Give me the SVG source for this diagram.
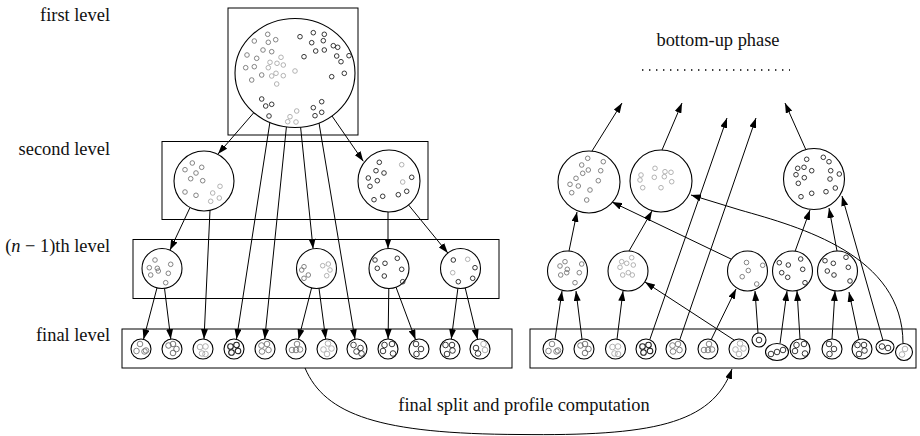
<svg xmlns="http://www.w3.org/2000/svg" xmlns:xlink="http://www.w3.org/1999/xlink" width="920" height="436" viewBox="0 0 920 436">
  <style>
    .box { fill: none; stroke: #000; stroke-width: 1; }
    .cl { fill: #fff; stroke: #000; stroke-width: 1.1; }
    .m { fill: none; stroke: #777; stroke-width: 0.9; }
    .l { fill: none; stroke: #aaa; stroke-width: 0.9; }
    .d { fill: none; stroke: #222; stroke-width: 0.9; }
    .lbl { font-family: "Liberation Serif", "Times New Roman", serif; font-size: 18.4px; fill: #111; }
    .edge { fill: none; stroke: #000; stroke-width: 1; marker-end: url(#ah); }
  </style>
  <defs>
    <marker id="ah" viewBox="0 0 10 7" refX="10" refY="3.5" markerWidth="10" markerHeight="7" markerUnits="userSpaceOnUse" orient="auto">
      <path d="M0,0 L10,3.5 L0,7 Z" fill="#000"/>
    </marker>
    <!-- leaf clusters of the final level -->
    <g id="f1"><circle class="cl" r="10"/><g class="m"><circle cx="-1" cy="-5" r="2.8"/><circle cx="-4.5" cy="2" r="2.8"/><circle cx="3.5" cy="2.5" r="2.8"/><circle cx="5" cy="1.5" r="2.8"/></g></g>
    <g id="f2"><circle class="cl" r="10"/><g class="m" style="stroke:#666"><circle cx="-3.5" cy="-3.5" r="2.8"/><circle cx="1" cy="-5" r="2.8"/><circle cx="4.5" cy="0" r="2.8"/><circle cx="1" cy="4" r="2.8"/></g></g>
    <g id="f3"><circle class="cl" r="10"/><g class="l"><circle cx="-3" cy="-2" r="2.8"/><circle cx="2.5" cy="-2.5" r="2.8"/><circle cx="-1" cy="4.5" r="2.8"/><circle cx="2.5" cy="5" r="2.8"/></g></g>
    <g id="f4"><circle class="cl" r="10"/><g class="d" style="stroke-width:1.1"><circle cx="-3.5" cy="-2.5" r="2.8"/><circle cx="2.5" cy="-4" r="2.8"/><circle cx="-2.5" cy="3.5" r="2.8"/><circle cx="4" cy="2" r="2.8"/></g></g>
    <g id="f5"><circle class="cl" r="10"/><g class="m"><circle cx="-3.5" cy="-3.5" r="2.8"/><circle cx="2" cy="-5" r="2.8"/><circle cx="-3" cy="2.5" r="2.8"/><circle cx="3.5" cy="1" r="2.8"/></g></g>
    <g id="f6"><circle class="cl" r="10"/><g class="m"><circle cx="-4" cy="1" r="2.8"/><circle cx="0" cy="1" r="2.8"/><circle cx="4" cy="0.5" r="2.8"/><circle cx="1" cy="-5" r="2.8"/></g></g>
    <g id="f7"><circle class="cl" r="10"/><g class="l"><circle cx="1" cy="-5.5" r="2.8"/><circle cx="-3.5" cy="0.5" r="2.8"/><circle cx="4.5" cy="-0.5" r="2.8"/><circle cx="0" cy="5" r="2.8"/></g></g>
    <g id="f8"><circle class="cl" r="10"/><g class="d" style="stroke:#333"><circle cx="-3.5" cy="-4" r="2.8"/><circle cx="3.5" cy="-1" r="2.8"/><circle cx="-0.5" cy="2.5" r="2.8"/><circle cx="4.5" cy="4.5" r="2.8"/></g></g>
    <g id="f9"><circle class="cl" r="10"/><g class="d"><circle cx="-3.5" cy="-4" r="2.8"/><circle cx="4" cy="-5" r="2.8"/><circle cx="-5" cy="2" r="2.8"/><circle cx="5" cy="4.5" r="2.8"/></g></g>
    <g id="f10"><circle class="cl" r="10"/><g class="d"><circle cx="-3" cy="-5" r="2.8"/><circle cx="2" cy="0" r="2.8"/><circle cx="-2.5" cy="5" r="2.8"/></g></g>
    <g id="f11"><circle class="cl" r="10"/><g class="d"><circle cx="-4.5" cy="-4" r="2.8"/><circle cx="2" cy="-4" r="2.8"/><circle cx="2.5" cy="1.5" r="2.8"/><circle cx="-3" cy="5" r="2.8"/></g></g>
    <g id="f12"><circle class="cl" r="10"/><circle class="d" cx="-4" cy="-1" r="2.8"/><circle class="d" cx="-2" cy="4.5" r="2.8"/><circle class="l" cx="3.5" cy="-5" r="2.8"/><circle class="l" cx="5" cy="1" r="2.8"/></g>
  </defs>

  <rect width="920" height="436" fill="#fff"/>

  <!-- level labels -->
  <g id="labels">
    <text class="lbl" x="110" y="21" text-anchor="end">first level</text>
    <text class="lbl" x="110" y="155" text-anchor="end">second level</text>
    <text class="lbl" x="110" y="252" text-anchor="end">(<tspan font-style="italic">n</tspan> − 1)th level</text>
    <text class="lbl" x="110" y="341" text-anchor="end">final level</text>
    <text class="lbl" x="718" y="46" text-anchor="middle">bottom-up phase</text>
    <line x1="642" y1="70" x2="790" y2="70" stroke="#000" stroke-width="1.4" stroke-dasharray="1.4 5.6"/>
    <text class="lbl" x="524" y="411" text-anchor="middle">final split and profile computation</text>
  </g>

  <!-- level frames -->
  <g id="frames">
    <rect class="box" x="228" y="8" width="130" height="127"/>
    <rect class="box" x="162" y="141.5" width="266" height="78"/>
    <rect class="box" x="133" y="239.5" width="366" height="59"/>
    <rect class="box" x="122" y="329" width="390" height="39"/>
    <rect class="box" x="530" y="329" width="386" height="39"/>
  </g>

  <!-- connectors -->
  <g id="connectors">
    <!-- top-down split -->
    <path class="edge" d="M253.5,113 L218,154"/>
    <path class="edge" d="M332,116 L363.3,161.3"/>
    <path class="edge" d="M269.9,122.3 L236.5,339"/>
    <path class="edge" d="M286.4,127 L264.7,339.2"/>
    <path class="edge" d="M300.6,127.2 L313.1,248.8"/>
    <path class="edge" d="M319,123 L355,339.2"/>
    <path class="edge" d="M190,207.6 L170,250"/>
    <path class="edge" d="M210,210.4 L204,339"/>
    <path class="edge" d="M388,212 L388,248.5"/>
    <path class="edge" d="M408.6,205 L447.8,253"/>
    <path class="edge" d="M157,287.8 L143.5,339.3"/>
    <path class="edge" d="M164.5,288.3 L170.8,339.1"/>
    <path class="edge" d="M311.6,287.9 L298.5,339.3"/>
    <path class="edge" d="M319,288.3 L325.7,339.1"/>
    <path class="edge" d="M388.8,288.5 L388.1,339"/>
    <path class="edge" d="M396,287.2 L415.5,339.6"/>
    <path class="edge" d="M457.9,288.3 L451.3,339.1"/>
    <path class="edge" d="M465.2,287.9 L477.6,339.3"/>
    <!-- final split -->
    <path class="edge" d="M305,368 C325,415 380,434 520,434.5 C650,436 712,425 732,369"/>
    <!-- bottom-up merge -->
    <path class="edge" d="M555,339.2 L562,291"/>
    <path class="edge" d="M582,339.2 L576,291"/>
    <path class="edge" d="M617,339.2 L623,291"/>
    <path class="edge" d="M650,339 L727,118"/>
    <path class="edge" d="M680,339 L756,118"/>
    <path class="edge" d="M711,340 L736,289"/>
    <path class="edge" d="M734,340 L645,282"/>
    <path class="edge" d="M758,333 L755,291"/>
    <path class="edge" d="M780,343.5 L787,291"/>
    <path class="edge" d="M800,339 L797,291"/>
    <path class="edge" d="M832,339 L835,291"/>
    <path class="edge" d="M859,339.5 L849,292"/>
    <path class="edge" d="M883,340.5 L842,196"/>
    <path class="edge" d="M903,343.5 C903,255 800,227 740,210 L691,195"/>
    <path class="edge" d="M569,251 L577,212"/>
    <path class="edge" d="M629,251 L652,211"/>
    <path class="edge" d="M731,259 L612,202"/>
    <path class="edge" d="M795,251.5 L810,210"/>
    <path class="edge" d="M837,251 L829,208"/>
    <path class="edge" d="M592,151 L622,103"/>
    <path class="edge" d="M662,150 L682,103"/>
    <path class="edge" d="M806,150 L785,103"/>
  </g>

  <!-- first level: the whole data set -->
  <g id="root">
    <ellipse class="cl" cx="295" cy="73" rx="60" ry="54.5"/>
    <g class="m">
      <circle cx="267.7" cy="34.3" r="2.3"/><circle cx="275.7" cy="39.7" r="2.3"/><circle cx="268.3" cy="42.3" r="2.3"/>
      <circle cx="254.3" cy="41" r="2.3"/><circle cx="263" cy="50" r="2.3"/><circle cx="271.7" cy="51.7" r="2.3"/>
      <circle cx="247" cy="55" r="2.3"/><circle cx="256.7" cy="58.3" r="2.3"/><circle cx="245.7" cy="67.7" r="2.3"/>
      <circle cx="254.3" cy="66.7" r="2.3"/><circle cx="251.7" cy="80" r="2.3"/><circle cx="261.7" cy="75" r="2.3"/>
    </g>
    <g class="l">
      <circle cx="281" cy="57.3" r="2.3"/><circle cx="270" cy="62.3" r="2.3"/><circle cx="277" cy="63.3" r="2.3"/>
      <circle cx="283.3" cy="65" r="2.3"/><circle cx="268.3" cy="67.7" r="2.3"/><circle cx="276" cy="73.3" r="2.3"/>
      <circle cx="271.7" cy="76" r="2.3"/><circle cx="283.3" cy="75.7" r="2.3"/><circle cx="295" cy="71" r="2.3"/>
      <circle cx="276.7" cy="84" r="2.3"/>
      <circle cx="296.7" cy="111" r="2.3"/><circle cx="290" cy="116.7" r="2.3"/><circle cx="296" cy="122" r="2.3"/>
      <circle cx="287.7" cy="121.7" r="2.3"/>
    </g>
    <g class="d">
      <circle cx="300" cy="36.7" r="2.3"/><circle cx="313.3" cy="32.7" r="2.3"/><circle cx="324.3" cy="34.3" r="2.3"/>
      <circle cx="311.7" cy="42.7" r="2.3"/><circle cx="323.3" cy="40.7" r="2.3"/><circle cx="333.3" cy="45.7" r="2.3"/>
      <circle cx="337.7" cy="47.3" r="2.3"/><circle cx="304" cy="56.7" r="2.3"/><circle cx="315.7" cy="51" r="2.3"/>
      <circle cx="324.3" cy="50" r="2.3"/><circle cx="336.7" cy="56" r="2.3"/><circle cx="341" cy="61.7" r="2.3"/>
      <circle cx="349" cy="55.7" r="2.3"/><circle cx="331.7" cy="76.7" r="2.3"/><circle cx="344.3" cy="73.3" r="2.3"/>
      <circle cx="261.7" cy="99" r="2.3"/><circle cx="271.7" cy="104.3" r="2.3"/><circle cx="265.7" cy="106" r="2.3"/>
      <circle cx="269" cy="116" r="2.3"/>
      <circle cx="321.7" cy="101.7" r="2.3"/><circle cx="313.3" cy="107.7" r="2.3"/><circle cx="321.7" cy="112.3" r="2.3"/>
      <circle cx="315" cy="115.7" r="2.3"/>
    </g>
  </g>

  <!-- second level -->
  <g id="s1">
    <circle class="cl" cx="204" cy="181" r="30"/>
    <g class="m">
      <circle cx="185" cy="169.7" r="2.3"/><circle cx="192.3" cy="163" r="2.3"/><circle cx="201.7" cy="167.3" r="2.3"/>
      <circle cx="196" cy="173" r="2.3"/><circle cx="190.7" cy="178.7" r="2.3"/><circle cx="202.7" cy="180.7" r="2.3"/>
      <circle cx="185" cy="192" r="2.3"/><circle cx="196" cy="195.3" r="2.3"/>
    </g>
    <g class="l">
      <circle cx="220" cy="186.3" r="2.3"/><circle cx="212.7" cy="193" r="2.3"/><circle cx="219.3" cy="198" r="2.3"/>
      <circle cx="210.7" cy="201.3" r="2.3"/>
    </g>
  </g>
  <g id="s2">
    <circle class="cl" cx="389" cy="181" r="31"/>
    <g class="d">
      <circle cx="379.3" cy="162.3" r="2.3"/><circle cx="376" cy="170.7" r="2.3"/><circle cx="384" cy="173" r="2.3"/>
      <circle cx="368.3" cy="178" r="2.3"/><circle cx="377.3" cy="180.7" r="2.3"/><circle cx="370" cy="186.3" r="2.3"/>
      <circle cx="411.7" cy="177.3" r="2.3"/><circle cx="406.7" cy="191.3" r="2.3"/><circle cx="398.3" cy="194.7" r="2.3"/>
      <circle cx="382.7" cy="196.3" r="2.3"/><circle cx="374" cy="199.7" r="2.3"/>
    </g>
    <g class="l"><circle cx="401.7" cy="164.7" r="2.3"/><circle cx="402.7" cy="182" r="2.3"/></g>
  </g>

  <!-- (n-1)th level -->
  <g id="n1">
    <circle class="cl" cx="162" cy="268.5" r="20"/>
    <g class="m">
      <circle cx="155" cy="260" r="2.3"/><circle cx="149.3" cy="267.7" r="2.3"/><circle cx="157.3" cy="268.3" r="2.3"/>
      <circle cx="158.3" cy="271" r="2.3"/><circle cx="150.7" cy="275" r="2.3"/><circle cx="170.7" cy="264.3" r="2.3"/>
      <circle cx="168.3" cy="273.3" r="2.3"/><circle cx="165.7" cy="282.7" r="2.3"/>
    </g>
  </g>
  <g id="n2">
    <circle class="cl" cx="316.5" cy="268.5" r="20"/>
    <g class="m"><circle cx="304" cy="266.7" r="2.3"/><circle cx="301.7" cy="270" r="2.3"/><circle cx="308.3" cy="275" r="2.3"/><circle cx="304" cy="278.3" r="2.3"/></g>
    <g class="l"><circle cx="322.7" cy="265.7" r="2.3"/><circle cx="328.3" cy="264" r="2.3"/><circle cx="330" cy="270" r="2.3"/><circle cx="326.7" cy="275.7" r="2.3"/></g>
  </g>
  <g id="n3">
    <circle class="cl" cx="389" cy="268.5" r="20"/>
    <g class="d">
      <circle cx="375" cy="260" r="2.3"/><circle cx="385" cy="263.3" r="2.3"/><circle cx="397.3" cy="258.3" r="2.3"/>
      <circle cx="377.3" cy="268.3" r="2.3"/><circle cx="384.3" cy="276" r="2.3"/><circle cx="401.7" cy="269.3" r="2.3"/>
      <circle cx="402.7" cy="281.7" r="2.3"/>
    </g>
  </g>
  <g id="n4">
    <circle class="cl" cx="460.5" cy="268.5" r="20"/>
    <g class="d"><circle cx="453.3" cy="260" r="2.3"/><circle cx="475" cy="267.7" r="2.3"/><circle cx="472.7" cy="278.3" r="2.3"/><circle cx="458.3" cy="281.7" r="2.3"/></g>
    <g class="l"><circle cx="467.7" cy="259.3" r="2.3"/><circle cx="452.7" cy="272.7" r="2.3"/></g>
  </g>

  <!-- final level, after the top-down phase -->
  <g id="leaves-left">
    <use xlink:href="#f1" x="141" y="349"/>
    <use xlink:href="#f2" x="172" y="349"/>
    <use xlink:href="#f3" x="203" y="349"/>
    <use xlink:href="#f4" x="234" y="349"/>
    <use xlink:href="#f5" x="265" y="349"/>
    <use xlink:href="#f6" x="296" y="349"/>
    <use xlink:href="#f7" x="327" y="349"/>
    <use xlink:href="#f8" x="357" y="349"/>
    <use xlink:href="#f9" x="388" y="349"/>
    <use xlink:href="#f10" x="419" y="349"/>
    <use xlink:href="#f11" x="450" y="349"/>
    <use xlink:href="#f12" x="480" y="349"/>
  </g>

  <!-- final level, after the final split -->
  <g id="leaves-right">
    <use xlink:href="#f1" x="553" y="349"/>
    <use xlink:href="#f2" x="584" y="349"/>
    <use xlink:href="#f3" x="615.5" y="349"/>
    <use xlink:href="#f4" x="646" y="349"/>
    <use xlink:href="#f5" x="676" y="349"/>
    <use xlink:href="#f6" x="708" y="349"/>
    <use xlink:href="#f7" x="739" y="349"/>
    <g id="r8"><circle class="cl" cx="759" cy="340" r="7"/><circle class="d" cx="759" cy="340" r="2.8"/></g>
    <g id="r9"><ellipse class="cl" cx="777" cy="352" rx="11.5" ry="8.5"/><g class="d"><circle cx="771" cy="354" r="2.8"/><circle cx="777" cy="352" r="2.8"/><circle cx="783" cy="350" r="2.8"/></g></g>
    <use xlink:href="#f9" x="800" y="349"/>
    <use xlink:href="#f10" x="832" y="349"/>
    <use xlink:href="#f11" x="862" y="349"/>
    <g id="r13"><ellipse class="cl" cx="885" cy="347" rx="9" ry="7"/><g class="d"><circle cx="882" cy="346.5" r="2.8"/><circle cx="888" cy="348" r="2.8"/></g></g>
    <g id="r14"><circle class="cl" cx="904" cy="352" r="8.5"/><g class="l"><circle cx="905" cy="349" r="2.8"/><circle cx="902" cy="354.5" r="2.8"/></g></g>
  </g>

  <!-- bottom-up phase: merged clusters -->
  <g id="m1">
    <circle class="cl" cx="567.5" cy="271" r="20"/>
    <g class="m">
      <circle cx="565" cy="261.7" r="2.3"/><circle cx="560" cy="266" r="2.3"/><circle cx="567.3" cy="269.3" r="2.3"/>
      <circle cx="566.7" cy="272.7" r="2.3"/><circle cx="560.7" cy="275" r="2.3"/><circle cx="581.7" cy="264" r="2.3"/>
      <circle cx="579.3" cy="272.7" r="2.3"/><circle cx="575" cy="282.7" r="2.3"/>
    </g>
  </g>
  <g id="m2">
    <circle class="cl" cx="628" cy="271" r="20"/>
    <g class="l">
      <circle cx="621.7" cy="261.7" r="2.3"/><circle cx="631.7" cy="257.7" r="2.3"/><circle cx="626.7" cy="263.3" r="2.3"/>
      <circle cx="633.3" cy="265" r="2.3"/><circle cx="620" cy="267.3" r="2.3"/><circle cx="628.3" cy="272.7" r="2.3"/>
      <circle cx="622.7" cy="275" r="2.3"/><circle cx="632.3" cy="275" r="2.3"/>
    </g>
  </g>
  <g id="m3">
    <circle class="cl" cx="747.5" cy="271" r="20"/>
    <g class="m">
      <circle cx="746.5" cy="262.5" r="2.3"/><circle cx="748.3" cy="270.5" r="2.3"/><circle cx="742.2" cy="276.7" r="2.3"/>
      <circle cx="762.7" cy="265.3" r="2.3"/><circle cx="756.7" cy="284" r="2.3"/>
    </g>
  </g>
  <g id="m4">
    <circle class="cl" cx="792.5" cy="271" r="20"/>
    <g class="d">
      <circle cx="779.3" cy="262.7" r="2.3"/><circle cx="788.3" cy="265" r="2.3"/><circle cx="800.7" cy="259" r="2.3"/>
      <circle cx="781.7" cy="272.7" r="2.3"/><circle cx="787.7" cy="277.3" r="2.3"/><circle cx="802.7" cy="269.3" r="2.3"/>
      <circle cx="805" cy="282.7" r="2.3"/>
    </g>
  </g>
  <g id="m5">
    <circle class="cl" cx="837.5" cy="271" r="20"/>
    <g class="d">
      <circle cx="825" cy="260.7" r="2.3"/><circle cx="833.3" cy="263.3" r="2.3"/><circle cx="846" cy="257.3" r="2.3"/>
      <circle cx="827.3" cy="271" r="2.3"/><circle cx="834" cy="275" r="2.3"/><circle cx="848.3" cy="267.3" r="2.3"/>
      <circle cx="850" cy="281" r="2.3"/>
    </g>
  </g>
  <g id="u1">
    <circle class="cl" cx="589" cy="182" r="31"/>
    <g class="m">
      <circle cx="587.7" cy="158.3" r="2.3"/><circle cx="581.7" cy="165" r="2.3"/><circle cx="603.3" cy="161.7" r="2.3"/>
      <circle cx="588.3" cy="170" r="2.3"/><circle cx="600.7" cy="170.7" r="2.3"/><circle cx="582.7" cy="173.3" r="2.3"/>
      <circle cx="576" cy="178.3" r="2.3"/><circle cx="598.3" cy="180.7" r="2.3"/><circle cx="570" cy="184.3" r="2.3"/>
      <circle cx="578.3" cy="186" r="2.3"/><circle cx="590" cy="190" r="2.3"/><circle cx="571.7" cy="192.7" r="2.3"/>
      <circle cx="586.7" cy="200" r="2.3"/>
    </g>
  </g>
  <g id="u2">
    <circle class="cl" cx="661" cy="181" r="31"/>
    <g class="l">
      <circle cx="655" cy="168.3" r="2.3"/><circle cx="641" cy="175" r="2.3"/><circle cx="640" cy="180" r="2.3"/>
      <circle cx="665" cy="171.7" r="2.3"/><circle cx="671" cy="172.3" r="2.3"/><circle cx="654.3" cy="177.3" r="2.3"/>
      <circle cx="664.3" cy="176.7" r="2.3"/><circle cx="671.7" cy="181.7" r="2.3"/><circle cx="642.7" cy="187.7" r="2.3"/>
      <circle cx="661" cy="187.7" r="2.3"/>
    </g>
  </g>
  <g id="u3">
    <circle class="cl" cx="814" cy="179" r="30.5"/>
    <g class="d">
      <circle cx="806.7" cy="159.3" r="2.3"/><circle cx="823.3" cy="157.3" r="2.3"/><circle cx="829" cy="161.7" r="2.3"/>
      <circle cx="797.7" cy="168.3" r="2.3"/><circle cx="804" cy="167.3" r="2.3"/><circle cx="811.7" cy="170.7" r="2.3"/>
      <circle cx="796" cy="174.7" r="2.3"/><circle cx="804.3" cy="177.7" r="2.3"/><circle cx="830.7" cy="170.7" r="2.3"/>
      <circle cx="839.3" cy="174" r="2.3"/><circle cx="830" cy="179" r="2.3"/><circle cx="798.3" cy="183.3" r="2.3"/>
      <circle cx="835.3" cy="188" r="2.3"/><circle cx="826" cy="191.7" r="2.3"/><circle cx="811.7" cy="193.3" r="2.3"/>
      <circle cx="801" cy="196.7" r="2.3"/>
    </g>
  </g>
</svg>
